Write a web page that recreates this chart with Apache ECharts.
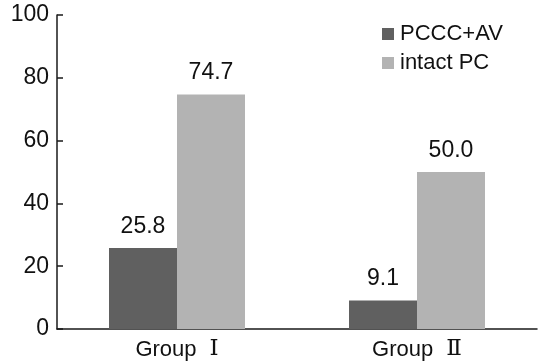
<!DOCTYPE html>
<html><head><meta charset="utf-8">
<script src="https://cdn.jsdelivr.net/npm/echarts@6/dist/echarts.min.js"></script>
<style>html,body{margin:0;padding:0;background:#fff}#c{width:540px;height:364px}</style>
</head><body><div id="c"></div>
<script>
const categories = ["Group \u2160", "Group \u2161"];
const pcccAV = [25.8, 9.1];
const intactPC = [74.7, 50.0];
const seriesNames = ["PCCC+AV", "intact PC"];

const font = "'Liberation Sans', Arial, sans-serif";
const chart = echarts.init(document.getElementById('c'), null, {renderer: 'canvas'});
const lbl = {show: true, position: 'top', distance: 10, fontFamily: font, fontSize: 23, color: '#111',
  formatter: p => p.value.toFixed(1)};
chart.setOption({
  animation: false,
  grid: {left: 57, right: 3, top: 15, bottom: 35, containLabel: false},
  legend: {
    orient: 'vertical', left: 382, top: 23, padding: 0, itemWidth: 12, itemHeight: 12, itemGap: 7,
    icon: 'rect',
    textStyle: {fontFamily: font, fontSize: 22, color: '#111', padding: [0, 0, 0, 1]},
    data: seriesNames
  },
  xAxis: {
    type: 'category', data: categories,
    axisLine: {lineStyle: {color: '#1a1a1a', width: 1.5}},
    axisTick: {inside: true, length: 6, lineStyle: {color: '#1a1a1a', width: 1.5}},
    axisLabel: {
      margin: 9,
      formatter: v => v.replace(/^(\S+)\s*(.*)$/, '{a|$1}{b|$2}'),
      rich: {
        a: {fontFamily: font, fontSize: 22, color: '#111'},
        b: {fontFamily: "'DejaVu Serif', 'Liberation Serif', serif", fontSize: 23, color: '#111', padding: [0, 0, 0, 13]}
      }
    }
  },
  yAxis: {
    type: 'value', min: 0, max: 100, interval: 20,
    axisLine: {show: true, lineStyle: {color: '#1a1a1a', width: 1.5}},
    axisTick: {show: true, inside: true, length: 6, lineStyle: {color: '#1a1a1a', width: 1.5}},
    splitLine: {show: false},
    axisLabel: {fontFamily: font, fontSize: 23, color: '#111', margin: 8, padding: [5, 0, 0, 0]}
  },
  series: [
    {name: seriesNames[0], type: 'bar', data: pcccAV, barWidth: 68, barGap: '0%',
     itemStyle: {color: '#606060'}, label: lbl},
    {name: seriesNames[1], type: 'bar', data: intactPC, barWidth: 68, barGap: '0%',
     itemStyle: {color: '#b3b3b3'}, label: lbl}
  ]
});
</script></body></html>
